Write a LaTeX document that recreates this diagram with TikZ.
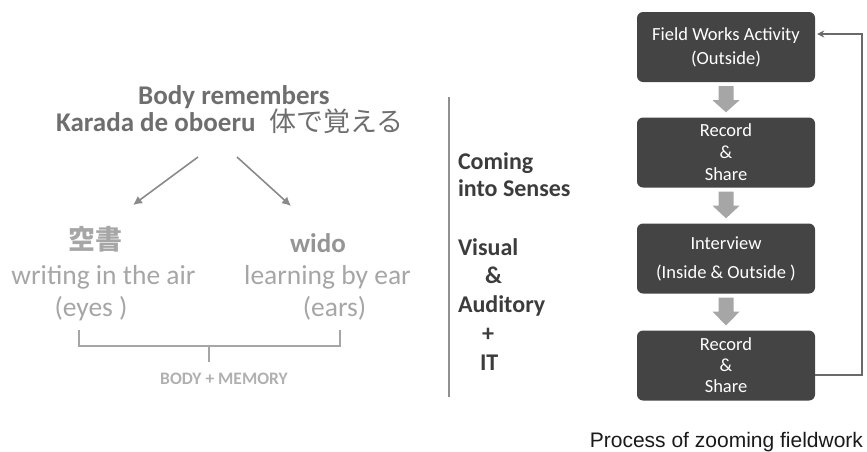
\documentclass[tikz,border=0pt]{standalone}
\usepackage{fontspec}
\setmainfont{Carlito}
\newfontfamily\cjk{Noto Sans CJK JP}
\newfontfamily\capfont{Liberation Sans}
\usetikzlibrary{arrows.meta,calc}
\definecolor{titlegray}{HTML}{6E6E6E}
\definecolor{arrowgray}{HTML}{8A8A8A}
\definecolor{lightgray}{HTML}{A6A6A6}
\definecolor{widogray}{HTML}{959595}
\definecolor{memgray}{HTML}{B0B0B0}
\definecolor{vlinegray}{HTML}{909090}
\definecolor{midtext}{HTML}{3C3C3C}
\definecolor{boxgray}{HTML}{444444}
\definecolor{blockgray}{HTML}{A6A6A6}
\definecolor{fbgray}{HTML}{6A6A6A}
\definecolor{captext}{HTML}{1A1A1A}
\newcommand\myfs[1]{\fontsize{#1}{#1}\selectfont}
\begin{document}
\begin{tikzpicture}[x=1pt,y=-1pt,
  txt/.style={inner sep=0pt, outer sep=0pt, anchor=base},
  title/.style={txt, text=titlegray, font=\bfseries\myfs{27}},
  lefthead/.style={txt, font=\bfseries\myfs{27}},
  leftline/.style={txt, text=lightgray, font=\myfs{27.5}},
  midline/.style={txt, anchor=base west, text=midtext, font=\bfseries\myfs{24}},
  procbox/.style={fill=boxgray, rounded corners=6pt, minimum width=178pt, minimum height=70pt, text=white, align=center, inner sep=0pt},
  leftarrow/.style={draw=arrowgray, line width=1.6pt, -{Latex[length=9pt,width=9pt]}},
  bracket/.style={draw=lightgray, line width=2.5pt},
  fbline/.style={draw=fbgray, line width=1.6pt, -{Stealth[length=7pt,width=7pt]}}
]
\useasboundingbox (0,0) rectangle (867,451);

% ---- left part ----
\node[title] (t1) at (234,104) {Body remembers};
\node[title] (t2) at (230,131) {Karada de oboeru\hspace{14pt}{\cjk\mdseries 体で覚える}};

\node[lefthead, text=lightgray] (kusho) at (95,249) {\cjk 空書};
\node[lefthead, text=widogray] (wido) at (318,252) {wido};
\node[leftline] (writing) at (103.5,284) {writing in the air};
\node[leftline] (learning) at (327.5,284) {learning by ear};
\node[leftline] (eyes) at (91,316) {(eyes )};
\node[leftline] (ears) at (334.5,316) {(ears)};

\coordinate (la0) at (198,157);
\coordinate (la1) at (133,205);
\coordinate (ra0) at (237,157);
\coordinate (ra1) at (291,206);
\draw[leftarrow] (la0) -- (la1);
\draw[leftarrow] (ra0) -- (ra1);

\coordinate (bl) at (79,330);
\coordinate (br) at (340,330);
\coordinate (bm) at (209,346);
\draw[bracket] (bl) -- (bl |- bm) -- (br |- bm) -- (br);
\draw[bracket] (bm) -- ++(0,16);
\node[txt, text=memgray, font=\bfseries\myfs{17.5}] (mem) at (224,384) {BODY + MEMORY};

% ---- middle part ----
\coordinate (v0) at (449,97);
\coordinate (v1) at (449,397);
\draw[draw=vlinegray, line width=2pt] (v0) -- (v1);
\node[midline] (coming) at (458,169) {Coming};
\node[midline] (senses) at (458,196) {into Senses};
\node[midline] (visual) at (458,255) {Visual};
\node[midline] (amp) at (485,283) {\&};
\node[midline] (aud) at (458,312) {Auditory};
\node[midline] (plus) at (482,341) {+};
\node[midline] (it) at (480,370) {IT};

% ---- right part ----
\node[procbox, font=\fontsize{18.5}{24}\selectfont] (b1) at (726,47) {Field Works Activity\\(Outside)};
\node[procbox, font=\fontsize{18.5}{22}\selectfont] (b2) at (726,152.5) {Record\\\&\\Share};
\node[procbox, font=\fontsize{18.5}{29}\selectfont] (b3) at (726,258.5) {Interview\\(Inside \& Outside )};
\node[procbox, font=\fontsize{18.5}{21}\selectfont] (b4) at (726,365.5) {Record\\\&\\Share};

\foreach \a/\b in {b1/b2,b2/b3,b3/b4}{
  \fill[blockgray] ($(\a.south)+(-7.5,4)$) -- ($(\a.south)+(7.5,4)$) -- ($(\a.south)+(7.5,18)$)
    -- ($(\a.south)+(13.5,18)$) -- ($(\b.north)+(0,-5)$) -- ($(\a.south)+(-13.5,18)$)
    -- ($(\a.south)+(-7.5,18)$) -- cycle;
}

\coordinate (fbs) at ($(b4.east)+(0,9.5)$);
\coordinate (fbe) at ($(b1.east)+(2,-13)$);
\draw[fbline] (fbs) -- ++(47,0) |- (fbe);

\node[txt, anchor=base east, text=captext, font=\capfont\myfs{21}] (cap) at (863,447) {Process of zooming fieldwork};
\end{tikzpicture}
\end{document}
